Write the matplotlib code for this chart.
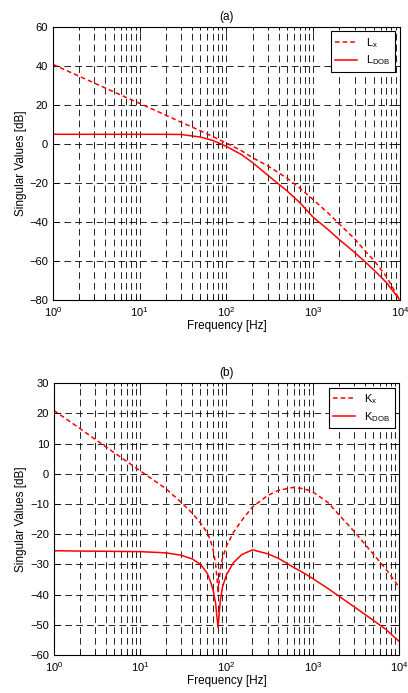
import matplotlib.pyplot as plt

plt.rcParams['font.family'] = ['Liberation Sans', 'DejaVu Sans']
plt.rcParams['mathtext.fontset'] = 'custom'
plt.rcParams['mathtext.rm'] = 'Liberation Sans'

# (a) loop singular values
freq_a = [1, 2, 5, 10, 20, 30, 50, 70, 100, 150, 200, 300, 500, 700, 1000,
          1500, 2000, 3000, 4000, 5000, 7000, 10000]
lx_db = [40.8, 34.8, 26.8, 20.8, 14.8, 11.2, 6.8, 3.8, 0.5, -3.5, -7.0, -11.2,
         -17.5, -22.5, -28.5, -35.5, -41.0, -48.5, -55.0, -59.5, -68.0, -80.0]
ldob_db = [5.0, 5.0, 5.0, 5.0, 5.0, 4.9, 3.6, 1.8, -1.2, -5.5, -9.5, -16.0,
           -24.0, -30.0, -37.5, -44.0, -49.0, -55.5, -60.5, -64.5, -71.0, -80.0]

# (b) controller singular values
freq_b = [1, 2, 5, 10, 20, 30, 40, 50, 60, 65, 70, 75, 78, 80, 82, 85, 90,
          100, 120, 150, 200, 300, 400, 600, 800, 1000, 1500, 2000, 3000,
          5000, 7000, 10000]
kx_db = [21.0, 15.0, 7.0, 1.0, -5.0, -9.5, -13.0, -16.3, -19.5, -22.0, -25.0,
         -30.0, -35.0, -39.5, -36.0, -31.5, -28.0, -24.0, -19.5, -15.5, -11.0,
         -7.2, -5.5, -4.5, -5.0, -6.0, -9.5, -13.5, -19.0, -26.5, -31.5, -37.5]
kdob_db = [-25.5, -25.6, -25.7, -25.8, -26.2, -27.0, -28.2, -30.0, -33.0,
           -35.5, -38.5, -43.0, -48.0, -51.0, -47.0, -42.0, -37.5, -33.5,
           -29.5, -26.8, -25.2, -26.5, -28.0, -31.0, -33.0, -34.7, -38.0,
           -40.5, -44.0, -48.5, -51.5, -55.5]

fig = plt.figure(figsize=(4.08, 6.93), dpi=100)


def setup(ax, ylim, yticks, title):
    ax.set_xscale('log')
    ax.set_xlim(1, 1e4)
    ax.set_ylim(*ylim)
    ax.set_yticks(yticks)
    ax.grid(True, which='major', axis='both', color='black',
            linestyle=(0, (8, 5)), linewidth=0.6)
    ax.grid(True, which='minor', axis='x', color='black',
            linestyle=(0, (8, 5)), linewidth=0.6)
    ax.tick_params(which='both', direction='in', top=True, right=True,
                   labelsize=8, width=0.6)
    ax.tick_params(which='major', length=4)
    ax.tick_params(which='minor', length=2)
    for s in ax.spines.values():
        s.set_linewidth(0.8)
    ax.set_xlabel('Frequency [Hz]', fontsize=8.5, labelpad=1)
    ax.set_ylabel('Singular Values [dB]', fontsize=8.5, labelpad=2)
    ax.set_title(title, fontsize=8.5, pad=5)


def add_legend(ax):
    leg = ax.legend(loc='upper right', fontsize=8, fancybox=False,
                    framealpha=1, edgecolor='black', borderaxespad=0.4,
                    handlelength=2.0, labelspacing=0.35, borderpad=0.4)
    leg.get_frame().set_linewidth(0.8)


ax1 = fig.add_axes([0.130, 0.567, 0.850, 0.394])
setup(ax1, (-80, 60), range(-80, 61, 20), '(a)')
ax1.plot(freq_a, lx_db, color='red', linestyle=(0, (3, 2)), linewidth=1.1,
         label=r'L$_\mathregular{x}$')
ax1.plot(freq_a, ldob_db, color='red', linewidth=1.1,
         label=r'L$_\mathregular{DOB}$')
add_legend(ax1)

ax2 = fig.add_axes([0.132, 0.055, 0.846, 0.392])
setup(ax2, (-60, 30), range(-60, 31, 10), '(b)')
ax2.plot(freq_b, kx_db, color='red', linestyle=(0, (3, 2)), linewidth=1.1,
         label=r'K$_\mathregular{x}$')
ax2.plot(freq_b, kdob_db, color='red', linewidth=1.1,
         label=r'K$_\mathregular{DOB}$')
add_legend(ax2)

fig.savefig('out.png', dpi=100)
